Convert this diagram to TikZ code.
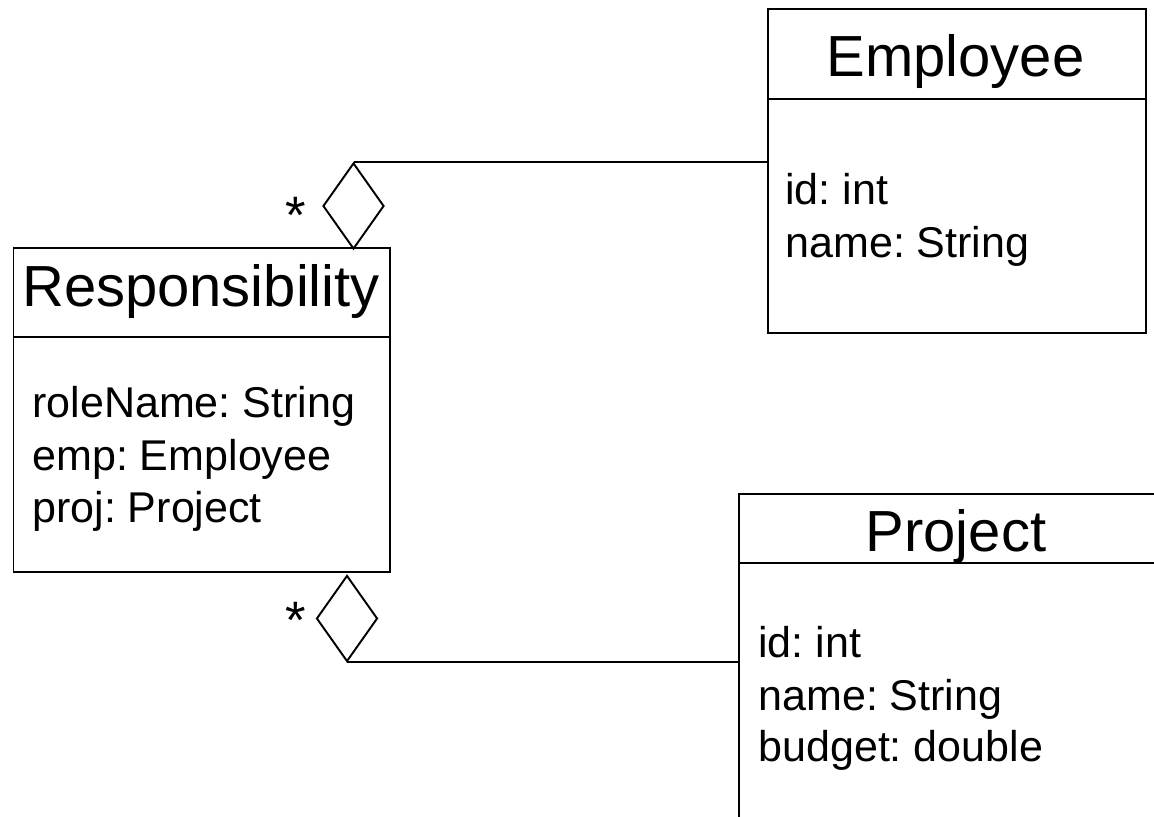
\documentclass[tikz,border=0pt]{standalone}
\usepackage{fontspec}
\setmainfont{Liberation Sans}
\frenchspacing
\usetikzlibrary{positioning, shapes.geometric}
\tikzset{
  classbox/.style={draw, line width=1.1pt, inner sep=0pt, anchor=north west},
  classname/.style={font=\fontsize{33}{40}\selectfont, anchor=base, inner sep=0pt},
  attr/.style={font=\fontsize{24.5}{29}\selectfont, anchor=base west, inner sep=0pt},
  agg/.style={draw, diamond, line width=1.1pt, inner sep=0pt, minimum width=1.22cm, minimum height=1.72cm},
  mult/.style={font=\fontsize{30}{32}\selectfont, anchor=base, inner sep=0pt},
  assoc/.style={line width=1.1pt}
}
\begin{document}
\begin{tikzpicture}[x=0.02cm, y=-0.02cm]
  \useasboundingbox (0,0) rectangle (1154,817);
  \clip (0,0) rectangle (1154,817);

  % classes
  \node[classbox, minimum width=7.56cm, minimum height=6.48cm] (emp) at (767,8) {};
  \node[classbox, minimum width=7.53cm, minimum height=6.48cm] (resp) at (12.5,247) {};
  \node[classbox, minimum width=8.72cm, minimum height=8cm] (proj) at (738,493) {};

  \draw[assoc] (emp.west |- 0,99) -- (emp.east |- 0,99);
  \draw[assoc] (resp.west |- 0,337) -- (resp.east |- 0,337);
  \draw[assoc] (proj.west |- 0,563) -- (proj.east |- 0,563);

  \node[classname] (empName) at (955.5,77) {Employee};
  \node[classname] (respName) at (201,307) {Responsibility};
  \node[classname] (projName) at (956,552) {Project};

  \foreach \t [count=\i] in {id: int, name: String}
    \node[attr] (empAttr\i) at (785,{205+52.5*(\i-1)}) {\t};
  \foreach \t [count=\i] in {roleName: String, emp: Employee, proj: Project}
    \node[attr] (respAttr\i) at (32,{418+52.5*(\i-1)}) {\t};
  \foreach \t [count=\i] in {id: int, name: String, budget: double}
    \node[attr] (projAttr\i) at (758,{658+52*(\i-1)}) {\t};

  % aggregations
  \node[agg] (aggEmp) at (353.5,206) {};
  \node[agg] (aggProj) at (347,618.5) {};
  \node[mult] (multEmp) at (296,234) {*};
  \node[mult] (multProj) at (296,639) {*};

  \draw[assoc] (aggEmp.north) -- (aggEmp.north -| emp.west);
  \draw[assoc] (aggProj.south) -- (aggProj.south -| proj.west);
\end{tikzpicture}
\end{document}
